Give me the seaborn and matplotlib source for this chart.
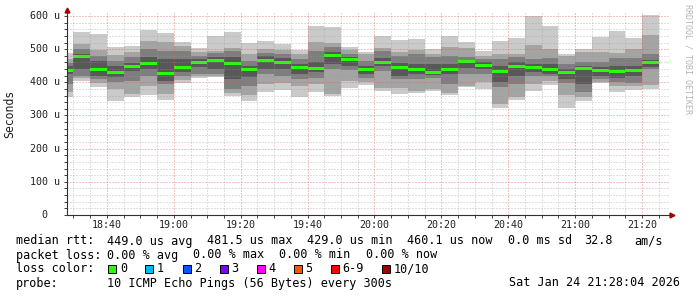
import numpy as np
import pandas as pd
import matplotlib
matplotlib.use("Agg")
import matplotlib.pyplot as plt
import seaborn as sns
from matplotlib.ticker import MultipleLocator, FixedLocator, NullFormatter
from matplotlib.patches import Rectangle
from matplotlib.lines import Line2D

# ---------------- data (microseconds) ----------------
slot_start = pd.date_range("2026-01-24 18:25", periods=36, freq="5min")

median = [437, 477, 440, 429, 449, 457, 428, 445, 461, 465, 458, 440, 466, 461, 446, 442, 481, 469,
          438, 461, 444, 440, 431, 440, 463, 450, 433, 448, 444, 438, 431, 443, 435, 434, 435, 460]

ping10 = [487, 552, 546, 505, 510, 557, 550, 522, 503, 541, 553, 518, 524, 515, 496, 570, 567, 507,
          492, 540, 528, 532, 500, 540, 522, 495, 525, 535, 600, 570, 484, 500, 537, 555, 533, 602]
ping9 = [470, 516, 496, 481, 492, 524, 522, 510, 490, 495, 502, 486, 500, 498, 485, 522, 520, 497,
         485, 504, 490, 498, 484, 506, 504, 480, 485, 485, 512, 499, 478, 490, 490, 489, 499, 542]
ping8 = [458, 499, 479, 465, 475, 499, 495, 494, 478, 488, 494, 464, 488, 485, 470, 494, 508, 485,
         465, 494, 478, 485, 476, 480, 476, 470, 470, 475, 470, 474, 455, 460, 460, 474, 474, 485]
ping7 = [450, 484, 464, 450, 458, 475, 470, 470, 470, 476, 475, 450, 478, 472, 455, 460, 492, 475,
         450, 474, 458, 455, 455, 455, 468, 460, 450, 460, 455, 455, 440, 448, 445, 450, 450, 468]
ping6 = [439, 479, 442, 431, 451, 459, 430, 447, 463, 467, 460, 442, 468, 463, 448, 444, 483, 471,
         440, 463, 446, 442, 433, 442, 465, 452, 435, 450, 446, 440, 433, 445, 437, 436, 437, 462]
ping5 = [435, 475, 438, 427, 447, 455, 426, 443, 459, 463, 456, 438, 464, 459, 444, 440, 479, 467,
         436, 459, 442, 438, 429, 438, 461, 448, 431, 446, 442, 436, 429, 441, 433, 432, 433, 458]
ping4 = [425, 440, 420, 415, 435, 440, 405, 430, 445, 440, 410, 417, 440, 440, 425, 430, 455, 450,
         425, 448, 420, 426, 422, 426, 444, 440, 400, 420, 432, 425, 410, 395, 420, 412, 419, 445]
ping3 = [395, 420, 410, 400, 405, 419, 395, 418, 425, 425, 380, 390, 424, 420, 410, 414, 440, 438,
         414, 434, 409, 409, 412, 396, 424, 425, 385, 394, 420, 418, 398, 372, 410, 402, 399, 440]
ping2 = [370, 414, 398, 379, 366, 390, 365, 408, 418, 420, 367, 362, 394, 398, 389, 396, 366, 405,
         402, 384, 384, 375, 380, 367, 390, 400, 335, 355, 394, 405, 362, 357, 402, 388, 389, 392]
ping1 = [355, 404, 385, 345, 355, 362, 347, 397, 412, 415, 360, 344, 371, 378, 356, 371, 360, 383,
         392, 375, 365, 367, 373, 362, 387, 379, 324, 348, 373, 392, 322, 345, 397, 371, 378, 380]

x_ticks = ["18:40", "19:00", "19:20", "19:40", "20:00", "20:20", "20:40", "21:00", "21:20"]
y_ticks = [0, 100, 200, 300, 400, 500, 600]
y_tick_labels = ["0", "100 u", "200 u", "300 u", "400 u", "500 u", "600 u"]

loss_labels = ["0", "1", "2", "3", "4", "5", "6-9", "10/10"]
loss_colors = ["#26ff00", "#00b8ff", "#0059ff", "#7e00ff", "#ff00ff", "#ff5500", "#ff0000", "#a10000"]

line1 = [("median rtt:", 16), ("449.0 us avg", 107.3), ("481.5 us max", 206.7), ("429.0 us min", 306.7),
         ("460.1 us now", 406.7), ("0.0 ms sd", 507.7), ("32.8", 584), ("am/s", 634.5)]
line2 = [("packet loss:", 16), ("0.00 % avg", 107.3), ("0.00 % max", 193.3), ("0.00 % min", 279.3),
         ("0.00 % now", 365.5)]
probe_text = "10 ICMP Echo Pings (56 Bytes) every 300s"
stamp_text = "Sat Jan 24 21:28:04 2026"

# ---------------- style ----------------
sns.set_theme(style="white")
plt.rcParams["font.family"] = ["DejaVu Sans Mono"]
plt.rcParams["lines.scale_dashes"] = False

W, H = 697, 297
fig = plt.figure(figsize=(W / 100, H / 100), dpi=100)
fig.patch.set_facecolor("white")
ax = fig.add_axes([67 / W, (H - 215) / H, 602 / W, 202 / H])
ax.set_facecolor("white")

t0 = pd.Timestamp("2026-01-24 18:00")
start_min = np.asarray((slot_start - t0).total_seconds() / 60.0)
edges = np.append(start_min, start_min[-1] + 5)

def ext(a):
    a = np.asarray(a, dtype=float)
    return np.append(a, a[-1])

layers = [(ping1, ping10, "#cacaca"), (ping2, ping9, "#a4a4a4"), (ping3, ping8, "#7e7e7e"),
          (ping4, ping7, "#585858"), (ping5, ping6, "#323232")]
for lo, hi, c in layers:
    ax.fill_between(edges, ext(lo), ext(hi), step="post", color=c, linewidth=0, zorder=1)

med = ext(median)
ax.fill_between(edges, med - 4.5, med + 4.5, step="post", color="#26ff00", linewidth=0, zorder=1.5)

ax.set_xlim(28.067, 208.067)
ax.set_ylim(0, 609)

ax.xaxis.set_major_locator(FixedLocator([40 + 20 * i for i in range(len(x_ticks))]))
ax.xaxis.set_minor_locator(MultipleLocator(5))
ax.yaxis.set_major_locator(FixedLocator(y_ticks))
ax.yaxis.set_minor_locator(MultipleLocator(20))
ax.xaxis.set_major_formatter(NullFormatter())
ax.yaxis.set_major_formatter(NullFormatter())

dot = (0, (0.72, 1.44))
ax.grid(which="minor", color="#9a9a9a", linestyle=dot, linewidth=0.72, alpha=0.6)
ax.grid(which="major", color="#e06060", linestyle=dot, linewidth=0.72, alpha=0.75)
ax.set_axisbelow(False)

ax.tick_params(which="both", direction="out", length=2, width=0.7, color="#404040",
               bottom=True, left=True)
for s in ["top", "right"]:
    ax.spines[s].set_visible(False)
for s in ["left", "bottom"]:
    ax.spines[s].set_color("#303030")
    ax.spines[s].set_linewidth(0.8)
    ax.spines[s].set_zorder(3)

# tick labels
for i, lab in enumerate(x_ticks):
    xv = 40 + 20 * i
    xp = 67 + (xv - 28.067) / 180.0 * 602
    fig.text(xp / W, 1 - 225 / H, lab, ha="center", va="center", fontsize=7.2, color="#202020")
for v, lab in zip(y_ticks, y_tick_labels):
    yp = 215 - v * 202 / 609
    xr = 60 if lab != "0" else 47
    fig.text(xr / W, 1 - yp / H, lab, ha="right", va="center", fontsize=7.2, color="#202020")

fig.text(10 / W, 1 - 114 / H, "Seconds", rotation=90, ha="center", va="center", fontsize=8.3,
         color="#202020")
fig.text(688 / W, 1 - 4 / H, "RRDTOOL / TOBI OETIKER", rotation=270, ha="center", va="top",
         fontsize=6, color="#b4b4b4")

# axis arrows
fig.add_artist(Line2D([67 / W, 67 / W], [1 - 13 / H, 1 - 9 / H], color="#303030", lw=0.8))
fig.add_artist(Line2D([67 / W], [1 - 10 / H], marker="^", markersize=3.5, color="#a00000",
                      linestyle="none"))
fig.add_artist(Line2D([671.5 / W], [1 - 215 / H], marker=">", markersize=3.5, color="#a00000",
                      linestyle="none"))

# legend text
fs = 8.5
for txt, xp in line1:
    fig.text(xp / W, 1 - 241 / H, txt, ha="left", va="center", fontsize=fs, color="black")
for txt, xp in line2:
    fig.text(xp / W, 1 - 255 / H, txt, ha="left", va="center", fontsize=fs, color="black")
fig.text(16 / W, 1 - 269 / H, "loss color:", ha="left", va="center", fontsize=fs, color="black")
sq_x = [108.3, 145.4, 182.5, 219.6, 256.7, 293.8, 330.9, 381.7]
for xp, lab, c in zip(sq_x, loss_labels, loss_colors):
    fig.add_artist(Rectangle((xp / W, 1 - 273 / H), 8 / W, 8 / H, transform=fig.transFigure,
                             facecolor=c, edgecolor="black", linewidth=0.7))
    fig.text((xp + 11.5) / W, 1 - 269 / H, lab, ha="left", va="center", fontsize=fs, color="black")
fig.text(16 / W, 1 - 283 / H, "probe:", ha="left", va="center", fontsize=fs, color="black")
fig.text(107.3 / W, 1 - 283 / H, probe_text, ha="left", va="center", fontsize=fs, color="black")
fig.text(680 / W, 1 - 283 / H, stamp_text, ha="right", va="center", fontsize=fs, color="black")

fig.savefig("out.png", dpi=100, facecolor="white")
